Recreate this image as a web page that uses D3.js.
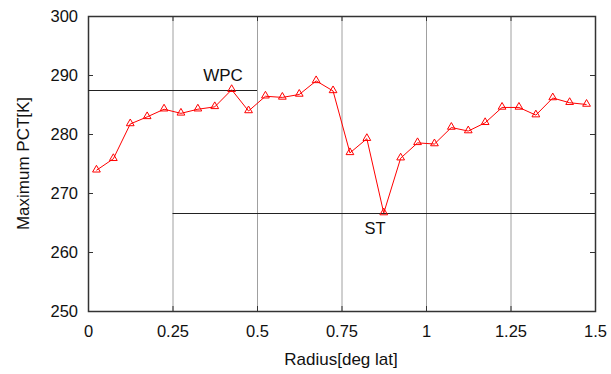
<!DOCTYPE html>
<html>
<head>
<meta charset="utf-8">
<script src="https://cdn.jsdelivr.net/npm/d3@7"></script>
<style>
body { margin: 0; background: #fff; }
text { font-family: "Liberation Sans", Arial, sans-serif; }
</style>
</head>
<body>
<div id="chart-area"></div>
<script>
// data
var radius = [0.025, 0.075, 0.125, 0.175, 0.225, 0.275, 0.325, 0.375, 0.425, 0.475,
    0.525, 0.575, 0.625, 0.675, 0.725, 0.775, 0.825, 0.875, 0.925, 0.975,
    1.025, 1.075, 1.125, 1.175, 1.225, 1.275, 1.325, 1.375, 1.425, 1.475];
var pct = [273.85, 275.8, 281.7, 282.9, 284.2, 283.5, 284.2, 284.6, 287.5, 283.9,
    286.4, 286.2, 286.7, 289.0, 287.3, 276.8, 279.2, 266.6, 275.9, 278.5,
    278.3, 281.1, 280.5, 281.9, 284.5, 284.5, 283.2, 286.1, 285.3, 285.0];
var xTicks = [0, 0.25, 0.5, 0.75, 1, 1.25, 1.5];
var yTicks = [250, 260, 270, 280, 290, 300];
var refLines = [
    {name: "WPC", value: 287.5, from: 0, to: 0.5},
    {name: "ST", value: 266.6, from: 0.25, to: 1.5}
];

var margin = {left: 88, right: 16, top: 16, bottom: 63};
var width = 611 - margin.left - margin.right,
    height = 374 - margin.top - margin.bottom;

var svg = d3.select("#chart-area").append("svg")
    .attr("width", 611)
    .attr("height", 374);

var g = svg.append("g").attr("transform", "translate(" + margin.left + ", " + margin.top + ")");

var x = d3.scaleLinear().domain([0, 1.5]).range([0, width]);
var y = d3.scaleLinear().domain([250, 300]).range([height, 0]);

// vertical grid
g.selectAll(".grid")
    .data(xTicks.slice(1, -1))
    .enter().append("line")
    .attr("x1", (d) => x(d) + 0.5)
    .attr("x2", (d) => x(d) + 0.5)
    .attr("y1", 0)
    .attr("y2", height)
    .attr("stroke", "#a0a0a0")
    .attr("stroke-width", 1);

// axes (ticks inside)
var bottomAxis = d3.axisBottom(x).tickValues(xTicks).tickSizeInner(-5).tickSizeOuter(0)
    .tickPadding(14).tickFormat(d3.format("~g"));
g.append("g")
    .attr("transform", "translate(0, " + height + ")")
    .call(bottomAxis);

var leftAxis = d3.axisLeft(y).tickValues(yTicks).tickSizeInner(-5).tickSizeOuter(0).tickPadding(10);
g.append("g").call(leftAxis);

var topAxis = d3.axisTop(x).tickValues(xTicks).tickSizeInner(-5).tickSizeOuter(0).tickFormat("");
g.append("g").call(topAxis);
var rightAxis = d3.axisRight(y).tickValues(yTicks).tickSizeInner(-5).tickSizeOuter(0).tickFormat("");
g.append("g").attr("transform", "translate(" + width + ",0)").call(rightAxis);

g.selectAll(".domain").remove();
g.selectAll(".tick line").attr("stroke", "#333");
g.selectAll(".tick text").attr("font-size", "16.5px").attr("fill", "#111")
    .style("font-family", "'Liberation Sans', Arial, sans-serif");

g.append("rect")
    .attr("x", 0.5).attr("y", 0.5)
    .attr("width", width).attr("height", height)
    .attr("fill", "none")
    .attr("stroke", "#333")
    .attr("stroke-width", 1.5);

// reference lines
refLines.forEach((r) => {
    g.append("line")
        .attr("x1", x(r.from))
        .attr("x2", x(r.to))
        .attr("y1", Math.round(y(r.value)) + 0.5)
        .attr("y2", Math.round(y(r.value)) + 0.5)
        .attr("stroke", "#222")
        .attr("stroke-width", 1);
});
svg.append("text")
    .attr("x", 223)
    .attr("y", 80.5)
    .attr("text-anchor", "middle")
    .attr("font-size", "17px")
    .attr("fill", "#111")
    .text(refLines[0].name);
svg.append("text")
    .attr("x", 375)
    .attr("y", 233.5)
    .attr("text-anchor", "middle")
    .attr("font-size", "16.5px")
    .attr("fill", "#111")
    .text(refLines[1].name);

// data line
var pts = radius.map((r, i) => ({r: r, v: pct[i]}));
var line = d3.line().x((d) => x(d.r)).y((d) => y(d.v));
g.append("path")
    .datum(pts)
    .attr("d", line)
    .attr("fill", "none")
    .attr("stroke", "#ff0000")
    .attr("stroke-width", 1);

var tri = d3.symbol().type(d3.symbolTriangle).size(26);
g.selectAll(".pt")
    .data(pts)
    .enter().append("path")
    .attr("transform", (d) => "translate(" + x(d.r) + "," + (y(d.v) - 0.5) + ")")
    .attr("d", tri)
    .attr("fill", "none")
    .attr("stroke", "#ff0000")
    .attr("stroke-width", 1);

// axis labels
svg.append("text")
    .attr("x", 341)
    .attr("y", 365)
    .attr("text-anchor", "middle")
    .attr("font-size", "17px")
    .attr("fill", "#111")
    .text("Radius[deg lat]");
svg.append("text")
    .attr("transform", "translate(28.5,163.5) rotate(-90)")
    .attr("text-anchor", "middle")
    .attr("font-size", "17px")
    .attr("fill", "#111")
    .text("Maximum PCT[K]");
</script>
</body>
</html>
